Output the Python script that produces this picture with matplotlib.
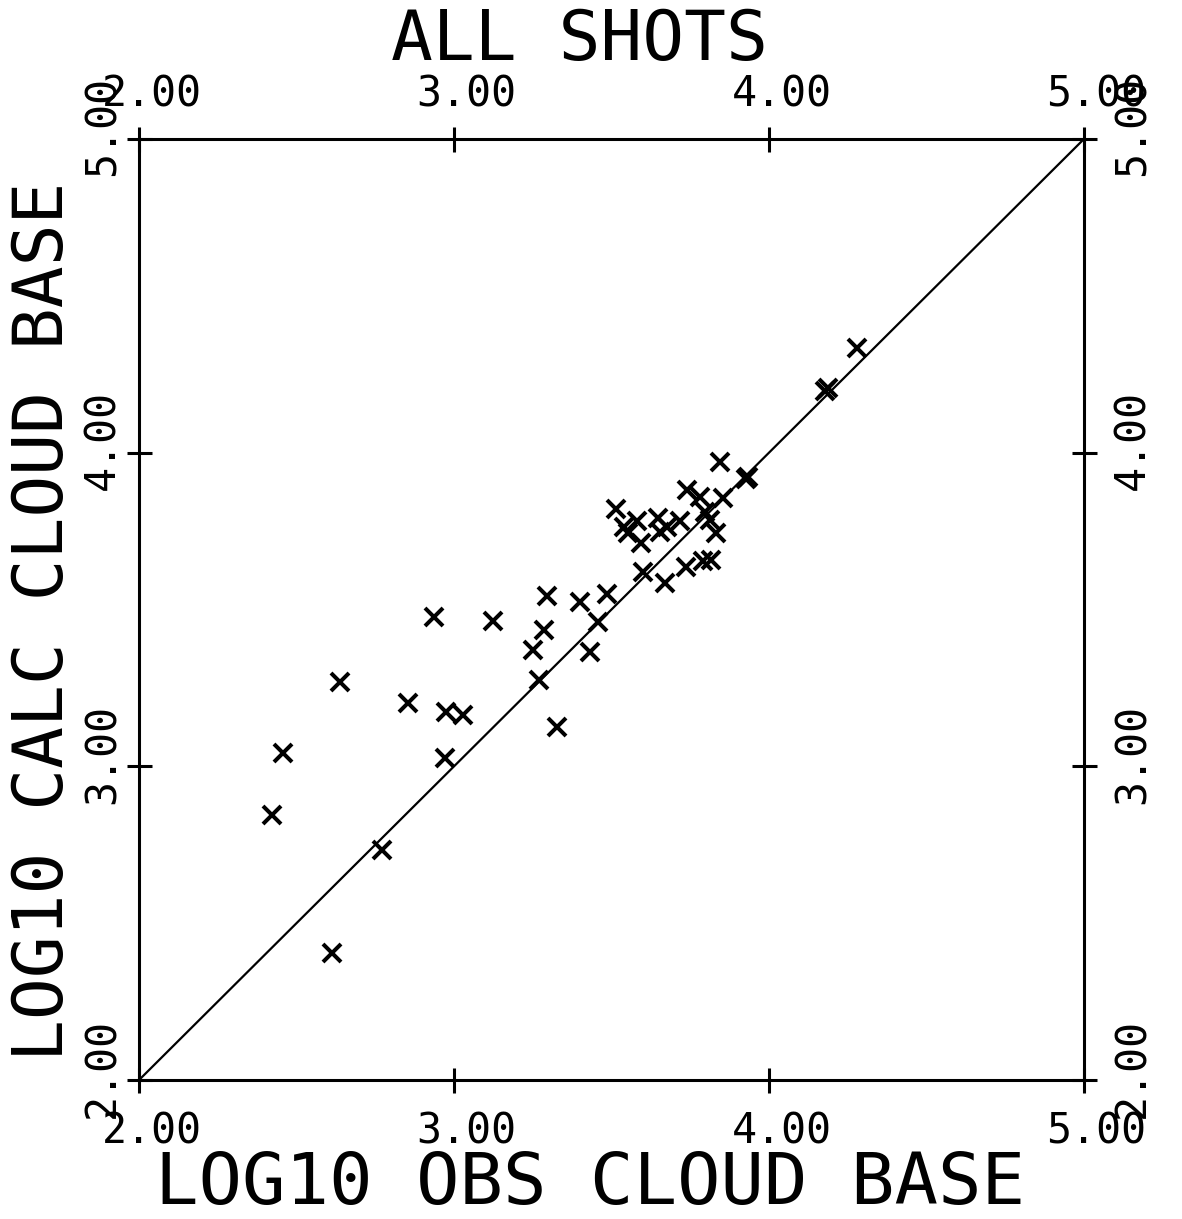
import matplotlib
matplotlib.use("Agg")
import matplotlib.pyplot as plt
from matplotlib.transforms import ScaledTranslation

obs = [2.422, 2.457, 2.613, 2.638, 2.771, 2.854, 2.937, 2.975, 2.971, 3.029,
       3.124, 3.251, 3.270, 3.286, 3.295, 3.327, 3.400, 3.432, 3.457, 3.486,
       3.514, 3.581, 3.552, 3.540, 3.594, 3.648, 3.654, 3.676, 3.717, 3.740,
       3.781, 3.854, 3.797, 3.813, 3.832, 3.600, 3.670, 3.737, 3.790, 3.816,
       3.844, 3.933, 3.927, 4.178, 4.187, 4.279]
calc = [2.845, 3.043, 2.405, 3.269, 2.734, 3.202, 3.476, 3.173, 3.027, 3.164,
        3.463, 3.371, 3.275, 3.435, 3.543, 3.126, 3.524, 3.365, 3.460, 3.550,
        3.821, 3.782, 3.744, 3.763, 3.712, 3.792, 3.747, 3.763, 3.782, 3.881,
        3.859, 3.856, 3.811, 3.785, 3.744, 3.620, 3.585, 3.636, 3.655, 3.658,
        3.970, 3.923, 3.916, 4.197, 4.206, 4.334]

ticks = [2.0, 3.0, 4.0, 5.0]
tick_labels = ["2.00", "3.00", "4.00", "5.00"]

plt.rcParams['font.family'] = ['DejaVu Sans Mono']

fig = plt.figure(figsize=(11.82, 12.19), dpi=100)
ax = fig.add_axes([0.1176, 0.1140, 0.7995, 0.7720])

ax.plot([2, 5], [2, 5], color='black', lw=1.6)
ax.plot(obs, calc, linestyle='none', marker='x', color='black',
        markersize=13, markeredgewidth=2.9)

ax.set_xlim(2, 5)
ax.set_ylim(2, 5)
for s in ax.spines.values():
    s.set_linewidth(2.2)

ax.set_xticks(ticks)
ax.set_xticklabels(tick_labels)
ax.set_yticks(ticks)
ax.set_yticklabels(tick_labels, rotation=90, va='center')
ax.tick_params(direction='inout', length=18, width=2.2, labelsize=30,
               top=True, right=True, labeltop=True, labelright=True, pad=4)

# nudge the labels like the plotter did (offsets in points)
def shift(dx, dy):
    return ScaledTranslation(dx / 72, dy / 72, fig.dpi_scale_trans)

for t in ax.xaxis.get_major_ticks():
    t.label1.set_transform(t.label1.get_transform() + shift(9, -9))
    t.label2.set_transform(t.label2.get_transform() + shift(9, 4))
for t in ax.yaxis.get_major_ticks():
    t.label1.set_transform(t.label1.get_transform() + shift(2, 9))
    t.label2.set_transform(t.label2.get_transform() + shift(7, 9))

fig.text(0.490, 0.967, "ALL SHOTS", ha='center', va='center', fontsize=50)
fig.text(0.499, 0.028, "LOG10 OBS CLOUD BASE", ha='center', va='center', fontsize=52)
fig.text(0.037, 0.490, "LOG10 CALC CLOUD BASE", ha='center', va='center',
         fontsize=50, rotation=90)

fig.savefig("out.png", dpi=100)
